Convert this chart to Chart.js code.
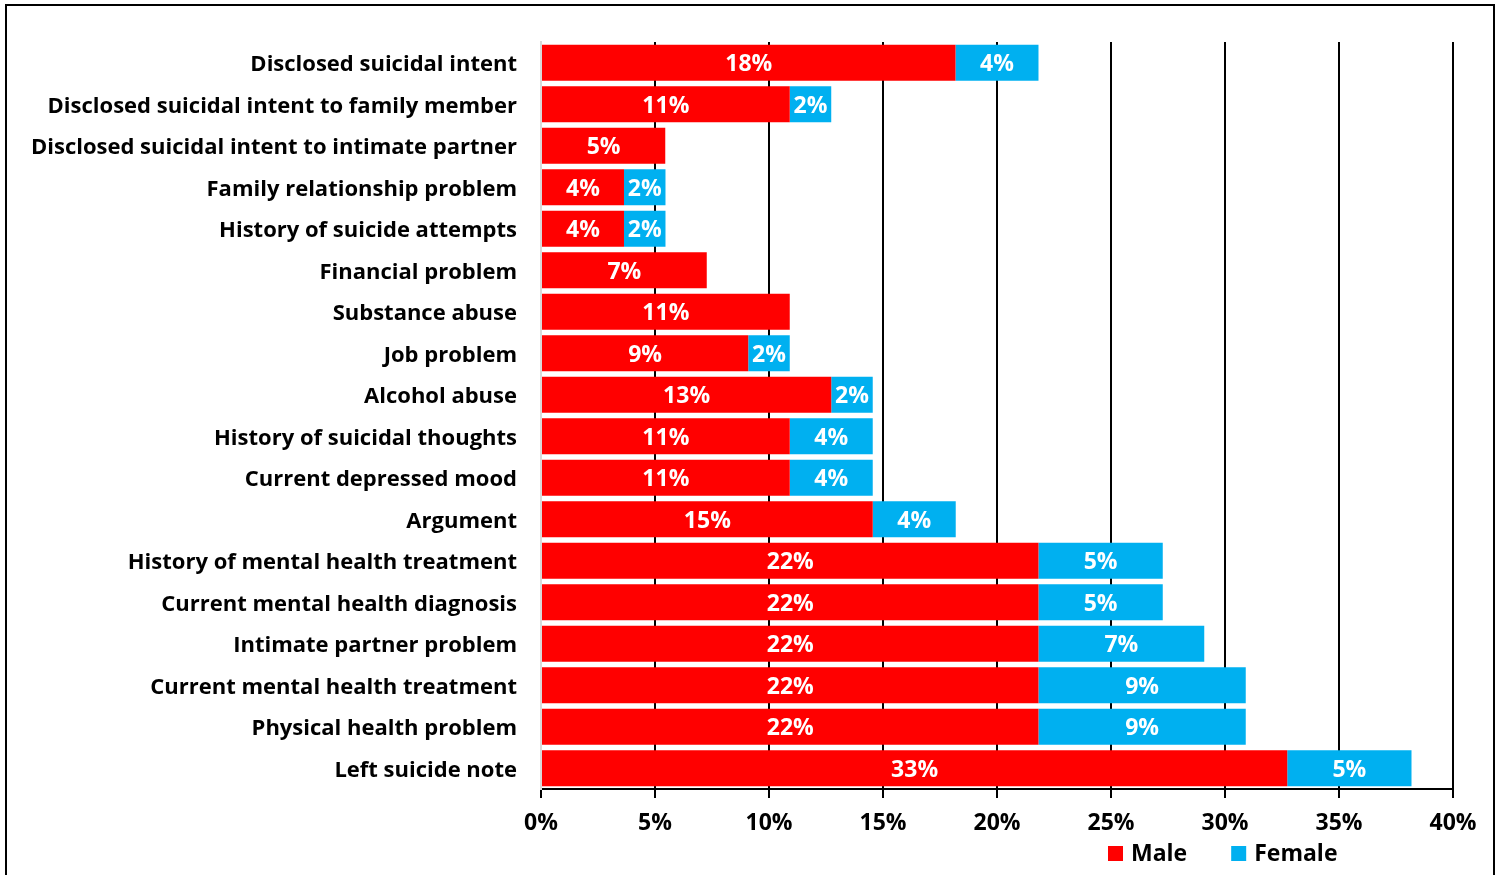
<!DOCTYPE html>
<html>
<head>
<meta charset="utf-8">
<title>Precipitating circumstances by sex</title>
<script src="https://cdn.jsdelivr.net/npm/chart.js@4"></script>
<style>
    html, body { margin: 0; padding: 0; background: #fff; overflow: hidden; }
    #wrap { position: relative; width: 1501px; height: 875px; }
    #marco {
        position: absolute; left: 5px; top: 4px; width: 1486px; height: 900px;
        border: 2px solid #000; border-bottom: none; pointer-events: none;
    }
</style>
</head>
<body>
<div id="wrap">
    <canvas id="barChart"></canvas>
    <div id="marco"></div>
</div>
<script>
// Datos (porcentaje de decesos)
const categorias = [
    'Disclosed suicidal intent',
    'Disclosed suicidal intent to family member',
    'Disclosed suicidal intent to intimate partner',
    'Family relationship problem',
    'History of suicide attempts',
    'Financial problem',
    'Substance abuse',
    'Job problem',
    'Alcohol abuse',
    'History of suicidal thoughts',
    'Current depressed mood',
    'Argument',
    'History of mental health treatment',
    'Current mental health diagnosis',
    'Intimate partner problem',
    'Current mental health treatment',
    'Physical health problem',
    'Left suicide note'
];
const valoresHombres = [18.18, 10.91, 5.45, 3.64, 3.64, 7.27, 10.91, 9.09, 12.73, 10.91, 10.91, 14.55, 21.82, 21.82, 21.82, 21.82, 21.82, 32.73];
const valoresMujeres = [3.64, 1.82, 0, 1.82, 1.82, 0, 0, 1.82, 1.82, 3.64, 3.64, 3.64, 5.45, 5.45, 7.27, 9.09, 9.09, 5.45];
const ticksX = [0, 5, 10, 15, 20, 25, 30, 35, 40];

const fuente = '"Open Sans", Lato, sans-serif';

// Etiquetas blancas dentro de cada segmento
const etiquetasBarras = {
    id: 'etiquetasBarras',
    afterDatasetsDraw(chart) {
        const ctx = chart.ctx;
        ctx.save();
        ctx.fillStyle = '#fff';
        ctx.font = 'bold 23px ' + fuente;
        ctx.textAlign = 'center';
        ctx.textBaseline = 'middle';
        chart.data.datasets.forEach((ds, i) => {
            const meta = chart.getDatasetMeta(i);
            meta.data.forEach((bar, j) => {
                const v = ds.data[j];
                if (!v) return;
                ctx.fillText(Math.round(v) + '%', (bar.x + bar.base) / 2, bar.y + 2);
            });
        });
        ctx.restore();
    }
};

// Leyenda dibujada a mano (abajo a la derecha)
const leyenda = {
    id: 'leyenda',
    afterDraw(chart) {
        const ctx = chart.ctx;
        ctx.save();
        ctx.font = 'bold 23px ' + fuente;
        ctx.textBaseline = 'middle';
        ctx.textAlign = 'left';
        let x = 1108;
        const y = 854;
        chart.data.datasets.forEach(ds => {
            ctx.fillStyle = ds.backgroundColor;
            ctx.fillRect(x, y - 8, 15, 15);
            ctx.fillStyle = '#000';
            ctx.fillText(ds.label, x + 23, y);
            x += 23 + ctx.measureText(ds.label).width + 44;
        });
        ctx.restore();
    }
};

const ctx = document.getElementById('barChart').getContext('2d');
window.barChart = new Chart(ctx, {
    type: 'bar',
    data: {
        labels: categorias,
        datasets: [
            {
                label: 'Male',
                data: valoresHombres,
                backgroundColor: '#ff0000',
                barPercentage: 0.87,
                categoryPercentage: 1.0
            },
            {
                label: 'Female',
                data: valoresMujeres,
                backgroundColor: '#00b0f0',
                barPercentage: 0.87,
                categoryPercentage: 1.0
            }
        ]
    },
    options: {
        indexAxis: 'y',
        responsive: true,
        maintainAspectRatio: false,
        animation: false,
        layout: { padding: { left: 0, top: 42, right: 48, bottom: 0 } },
        plugins: {
            legend: { display: false },
            tooltip: { enabled: false }
        },
        scales: {
            x: {
                stacked: true,
                min: 0,
                max: 40,
                afterBuildTicks: scale => { scale.ticks = ticksX.map(v => ({ value: v })); },
                afterFit: scale => { scale.height = 86; },
                border: { color: '#000', width: 2 },
                grid: {
                    color: c => c.index === 0 ? '#d9d9d9' : '#000',
                    lineWidth: 2,
                    tickColor: '#000',
                    tickLength: 9
                },
                ticks: {
                    color: '#000',
                    padding: 12,
                    font: { family: fuente, size: 23, weight: 'bold' },
                    callback: v => v + '%'
                }
            },
            y: {
                stacked: true,
                afterFit: scale => { scale.width = 541; },
                border: { color: '#d9d9d9', width: 2 },
                grid: { display: false, drawTicks: false },
                ticks: {
                    color: '#000',
                    padding: 24,
                    labelOffset: 2,
                    font: { family: fuente, size: 22, weight: 'bold' }
                }
            }
        }
    },
    plugins: [etiquetasBarras, leyenda]
});
</script>
</body>
</html>
